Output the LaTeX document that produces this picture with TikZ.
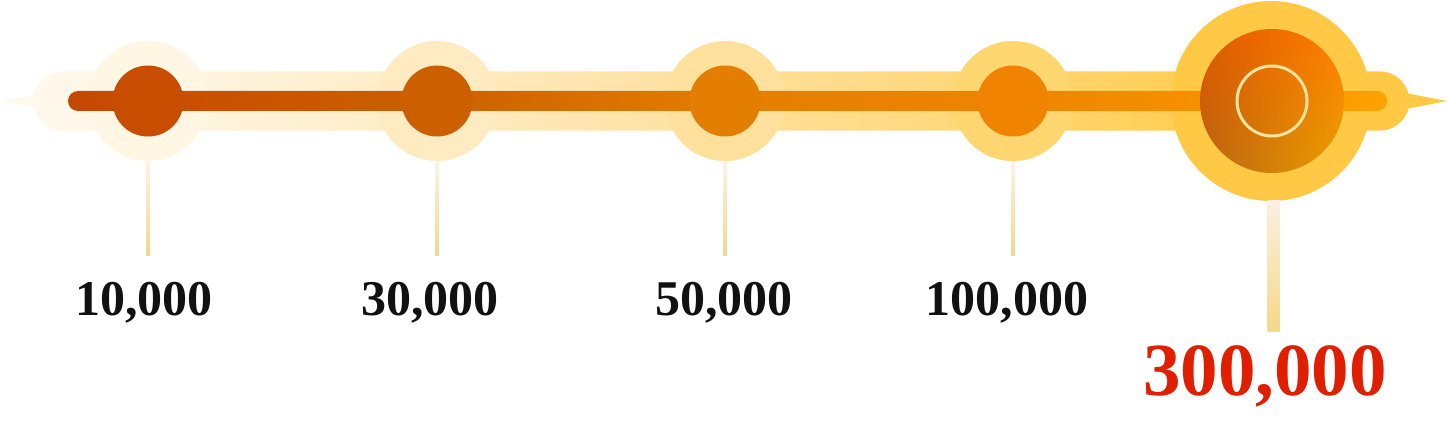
\documentclass[tikz,border=0pt]{standalone}
\usepackage{fontspec}
\setmainfont{Liberation Serif}
\usetikzlibrary{shadings,calc}
\definecolor{b0}{HTML}{FFF8EC}
\definecolor{h1}{HTML}{FFF6E3}
\definecolor{h2}{HTML}{FFEBC2}
\definecolor{h3}{HTML}{FFE09C}
\definecolor{h4}{HTML}{FFD670}
\definecolor{h5}{HTML}{FFC945}
\definecolor{l0}{HTML}{C44800}
\definecolor{n1}{HTML}{C84D00}
\definecolor{n2}{HTML}{CC6000}
\definecolor{n3}{HTML}{E47E00}
\definecolor{n4}{HTML}{F08400}
\definecolor{n5}{HTML}{F89500}
\definecolor{l6}{HTML}{FFA200}
\definecolor{stemtop}{HTML}{FBF3E8}
\definecolor{stembot}{HTML}{F0D890}
\definecolor{bstemtop}{HTML}{FBF0E2}
\definecolor{bstembot}{HTML}{F5D888}
\definecolor{ringc}{HTML}{FAE3A0}
\definecolor{bigred}{HTML}{E01E00}
\definecolor{txt}{HTML}{111111}
\definecolor{bul}{HTML}{E05800}
\definecolor{bur}{HTML}{FF7E00}
\definecolor{bll}{HTML}{B86410}
\definecolor{blr}{HTML}{EAA000}
\pgfdeclarehorizontalshading{bandshade}{100bp}{color(0bp)=(b0); color(25bp)=(b0); color(29bp)=(h1); color(40bp)=(h2); color(50bp)=(h3); color(61bp)=(h4); color(70bp)=(h5); color(75bp)=(h5); color(100bp)=(h5)}
\pgfdeclarehorizontalshading{lineshade}{100bp}{color(0bp)=(l0); color(25bp)=(l0); color(28bp)=(n1); color(39bp)=(n2); color(50bp)=(n3); color(61bp)=(n4); color(70.6bp)=(n5); color(75bp)=(l6); color(100bp)=(l6)}
\tikzset{
  halo/.style={circle, inner sep=0pt, draw=none},
  dot/.style={circle, inner sep=0pt, minimum size=71pt, draw=none},
  stemshade/.style={top color=stemtop, bottom color=stembot},
  lab/.style={anchor=base, text=txt, font=\fontsize{50}{52}\selectfont\bfseries, inner sep=0pt},
}
\begin{document}
\begin{tikzpicture}[x=1pt,y=1pt]
\useasboundingbox (0,0) rectangle (1448,432);
% band
\fill[b0] (1,331) -- (45,339) -- (45,323) -- cycle;
\fill[h5] (1447,331) -- (1400,340) -- (1400,322) -- cycle;
\shade[shading=bandshade] (63,360.5) -- (1380,360.5) arc[start angle=90,end angle=-90,radius=29.5] -- (63,301.5) arc[start angle=-90,end angle=-270,radius=29.5] -- cycle;
% halos
\node[halo, fill=h1, minimum size=120pt] (h1n) at (148,331) {};
\node[halo, fill=h2, minimum size=120pt] (h2n) at (437,331) {};
\node[halo, fill=h3, minimum size=120pt] (h3n) at (725,331) {};
\node[halo, fill=h4, minimum size=120pt] (h4n) at (1013,331) {};
\node[halo, fill=h5, minimum size=200pt] (h5n) at (1271,331) {};
% inner line
\shade[shading=lineshade] (78,341) -- (1377,341) arc[start angle=90,end angle=-90,radius=10] -- (78,321) arc[start angle=-90,end angle=-270,radius=10] -- cycle;
% dots
\node[dot, fill=n1] (d1) at (148,331) {};
\node[dot, fill=n2] (d2) at (437,331) {};
\node[dot, fill=n3] (d3) at (725,331) {};
\node[dot, fill=n4] (d4) at (1013,331) {};
\shade[upper left=bul, upper right=bur, lower left=bll, lower right=blr] (1272,331) circle[radius=72];
\node[circle, inner sep=0pt, minimum size=70pt, draw=ringc, line width=3pt] (ring) at (1272,331) {};
% stems
\coordinate (s1) at (148,177);
\coordinate (s2) at (437,177);
\coordinate (s3) at (725,177);
\coordinate (s4) at (1013,177);
\coordinate (s5) at (1273.5,101);
\shade[stemshade] ($(h1n.south)+(-2,0)$) rectangle ($(s1)+(2,0)$);
\shade[stemshade] ($(h2n.south)+(-2,0)$) rectangle ($(s2)+(2,0)$);
\shade[stemshade] ($(h3n.south)+(-2,0)$) rectangle ($(s3)+(2,0)$);
\shade[stemshade] ($(h4n.south)+(-2,0)$) rectangle ($(s4)+(2,0)$);
\shade[top color=bstemtop, bottom color=bstembot] (1267.5,232) rectangle ($(s5)+(6,0)$);
% labels
\node[lab] (t1) at (144,117) {10,000};
\node[lab] (t2) at (430,117) {30,000};
\node[lab] (t3) at (724,117) {50,000};
\node[lab] (t4) at (1007,117) {100,000};
\node[lab, text=bigred, font=\fontsize{75}{77}\selectfont\bfseries] (t5) at (1265,37) {300,000};
\end{tikzpicture}
\end{document}
